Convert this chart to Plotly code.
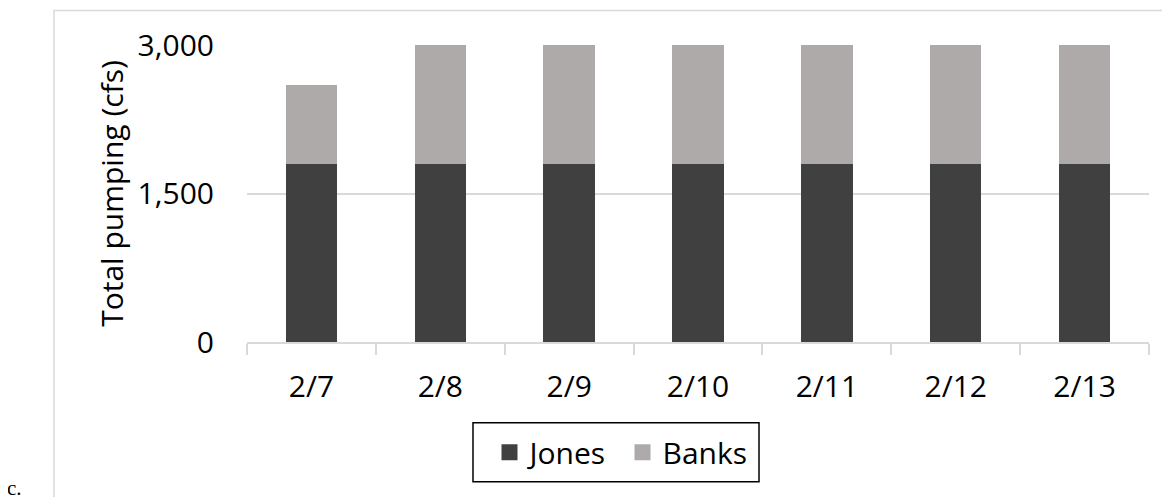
import plotly.graph_objects as go

dates = ["2/7", "2/8", "2/9", "2/10", "2/11", "2/12", "2/13"]
jones = [1800, 1800, 1800, 1800, 1800, 1800, 1800]
banks = [800, 1200, 1200, 1200, 1200, 1200, 1200]
y_ticks = [0, 1500, 3000]
y_ticklabels = ["0", "1,500", "3,000"]

JONES_COLOR = "#404040"
BANKS_COLOR = "#AEAAAA"
GRID = "#D9D9D9"
FONT = "Open Sans"
FS = 30

# page has an 8px body margin; lay the figure out in screen pixels and shift
OFF = 8
W, H = 1170 - OFF, 497 - OFF
PL, PR, PT, PB = 247 - OFF, 1149 - OFF, 44.5 - OFF, 342 - OFF
PW, PH = PR - PL, PB - PT


def px(x):
    return (x - OFF - PL) / PW


def py(y):
    return (PB - (y - OFF)) / PH


fig = go.Figure()
fig.add_trace(go.Bar(x=dates, y=jones, name="Jones", marker_color=JONES_COLOR,
                     marker_line_width=0, showlegend=False))
fig.add_trace(go.Bar(x=dates, y=banks, name="Banks", marker_color=BANKS_COLOR,
                     marker_line_width=0, showlegend=False))
# legend entries with square swatches
fig.add_trace(go.Scatter(x=[None], y=[None], mode="markers", name="Jones",
                         marker=dict(symbol="square", size=20, color=JONES_COLOR)))
fig.add_trace(go.Scatter(x=[None], y=[None], mode="markers", name="Banks",
                         marker=dict(symbol="square", size=20, color=BANKS_COLOR)))

fig.update_layout(
    width=W, height=H,
    margin=dict(l=PL, r=W - PR, t=PT, b=H - PB, autoexpand=False),
    paper_bgcolor="white", plot_bgcolor="white",
    barmode="stack", bargap=0.6,
    font=dict(family=FONT, size=FS, color="#000000"),
    legend=dict(orientation="h", x=px(489.5), xanchor="left", y=py(452.5), yanchor="middle",
                borderwidth=0, bgcolor="rgba(0,0,0,0)", font=dict(size=FS),
                itemsizing="trace", traceorder="normal", itemwidth=30,
                entrywidth=88, entrywidthmode="pixels"),
    xaxis=dict(type="category", showline=True, linecolor=GRID, linewidth=1.5,
               ticks="outside", tickson="boundaries", ticklen=11, tickcolor=GRID,
               tickwidth=1.5, showgrid=False, tickfont=dict(size=FS),
               ticklabelstandoff=17),
    yaxis=dict(range=[0, 3000], tickvals=y_ticks, ticktext=y_ticklabels,
               showgrid=True, gridcolor=GRID, gridwidth=1.5, zeroline=False,
               showline=False, ticks="", ticklabelstandoff=32,
               tickfont=dict(size=FS),
               title=dict(text="Total pumping (cfs)", font=dict(size=FS), standoff=5)),
    shapes=[
        dict(type="rect", xref="paper", yref="paper",
             x0=px(54), x1=px(1185), y0=py(515), y1=py(10),
             line=dict(color=GRID, width=1.5), fillcolor="rgba(0,0,0,0)", layer="below"),
        dict(type="rect", xref="paper", yref="paper",
             x0=px(473), x1=px(759), y0=py(482), y1=py(423),
             line=dict(color="#000000", width=1.5), fillcolor="rgba(0,0,0,0)", layer="below"),
    ],
    annotations=[dict(text="c.", xref="paper", yref="paper",
                      x=px(5), y=py(502), xanchor="left", yanchor="bottom",
                      showarrow=False, font=dict(family="Liberation Serif", size=21, color="#000000"))],
)

fig.write_html("out.html")
